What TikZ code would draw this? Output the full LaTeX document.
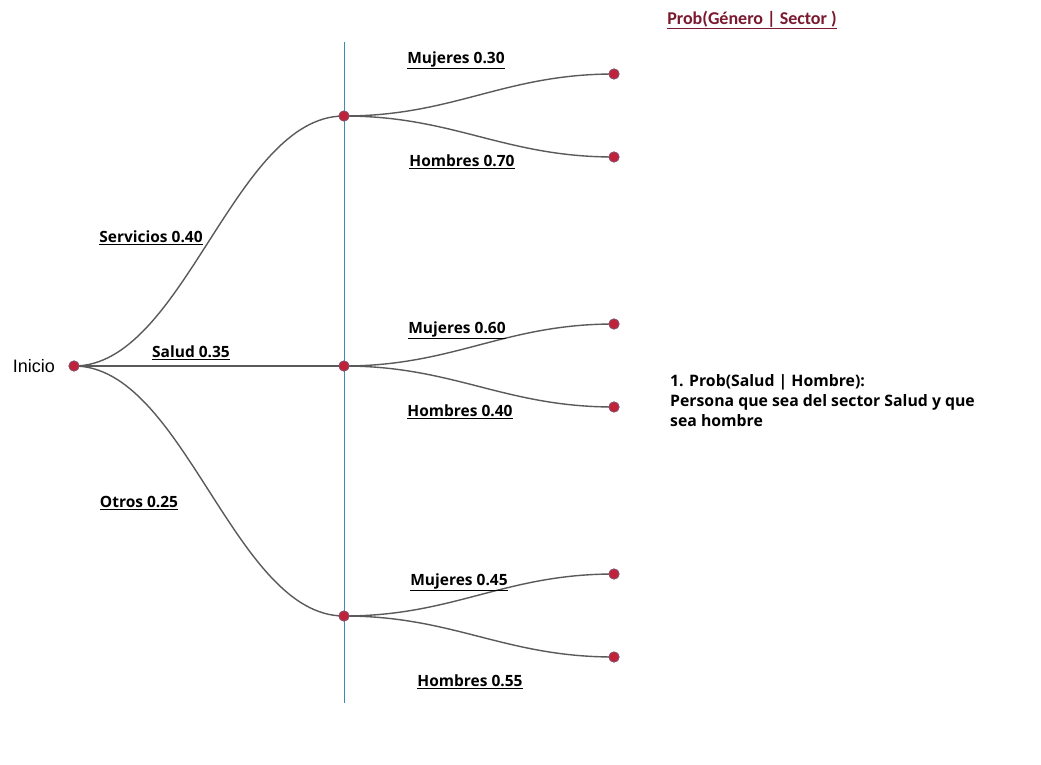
\documentclass[tikz,border=0pt]{standalone}
\usepackage{fontspec}
\setmainfont{Open Sans}
\newfontfamily\titlefont{Carlito}
\newfontfamily\arialfont{Liberation Sans}
\definecolor{linegray}{HTML}{5A5A5A}
\definecolor{dotred}{HTML}{C0223A}
\definecolor{dotrim}{HTML}{8E4A66}
\definecolor{vblue}{HTML}{3D8DB3}
\definecolor{titlered}{HTML}{7A1A2E}
\begin{document}
\begin{tikzpicture}[x=1pt,y=-1pt,
  dot/.style={circle,fill=dotred,draw=dotrim,line width=0.9pt,minimum size=10pt,inner sep=0pt},
  branch/.style={draw=linegray,line width=1.4pt},
  lbl/.style={font=\fontsize{15.5}{17}\selectfont\bfseries,inner sep=0pt},
]
\useasboundingbox (0,0) rectangle (1041,765);
\fill[white] (0,0) rectangle (1041,765);
% vertical line
\coordinate (vtop) at (344,42);
\coordinate (vbot) at (344,703);
\draw[vblue,line width=1pt] (vtop) -- (vbot);
% nodes
\node[dot] (s) at (74,366) {};
\node[dot] (m1) at (344,116) {};
\node[dot] (m2) at (344,366) {};
\node[dot] (m3) at (344,616) {};
\node[dot] (r1) at (614,74) {};
\node[dot] (r2) at (614,157) {};
\node[dot] (r3) at (614,324) {};
\node[dot] (r4) at (614,407) {};
\node[dot] (r5) at (614,574) {};
\node[dot] (r6) at (614,657) {};
% branches
\path[branch] (s.center) .. controls +(110,0) and +(-110,0) .. (m1.center);
\path[branch] (s.center) -- (m2.center);
\path[branch] (s.center) .. controls +(110,0) and +(-110,0) .. (m3.center);
\path[branch] (m1.center) .. controls +(110,0) and +(-110,0) .. (r1.center);
\path[branch] (m1.center) .. controls +(110,0) and +(-110,0) .. (r2.center);
\path[branch] (m2.center) .. controls +(110,0) and +(-110,0) .. (r3.center);
\path[branch] (m2.center) .. controls +(110,0) and +(-110,0) .. (r4.center);
\path[branch] (m3.center) .. controls +(110,0) and +(-110,0) .. (r5.center);
\path[branch] (m3.center) .. controls +(110,0) and +(-110,0) .. (r6.center);
% redraw dots on top
\foreach \n in {s,m1,m2,m3,r1,r2,r3,r4,r5,r6}{
  \node[dot] at (\n.center) {};
}
% labels
\node[font=\arialfont\fontsize{18}{20}\selectfont,anchor=east,inner sep=0pt] (ini) at (55,366) {Inicio};
\node[lbl] (l1) at (151,238) {\underline{Servicios 0.40}};
\node[lbl] (l2) at (191,353) {\underline{Salud 0.35}};
\node[lbl] (l3) at (139,503) {\underline{Otros 0.25}};
\node[lbl] (a1) at (456,60) {\underline{Mujeres 0.30}};
\node[lbl] (a2) at (462,162) {\underline{Hombres 0.70}};
\node[lbl] (b1) at (457,330) {\underline{Mujeres 0.60}};
\node[lbl] (b2) at (460,412) {\underline{Hombres 0.40}};
\node[lbl] (c1) at (459,582) {\underline{Mujeres 0.45}};
\node[lbl] (c2) at (470,682) {\underline{Hombres 0.55}};
\node[font=\titlefont\fontsize{18}{20}\selectfont\bfseries,text=titlered,inner sep=0pt] (title) at (752,20) {\underline{Prob(Género | Sector )}};
\node[lbl,anchor=north west,align=left,font=\fontsize{15.8}{20}\selectfont\bfseries] (txt) at (670,374)
  {1. Prob(Salud | Hombre):\\Persona que sea del sector Salud y que\\sea hombre};
\end{tikzpicture}
\end{document}
